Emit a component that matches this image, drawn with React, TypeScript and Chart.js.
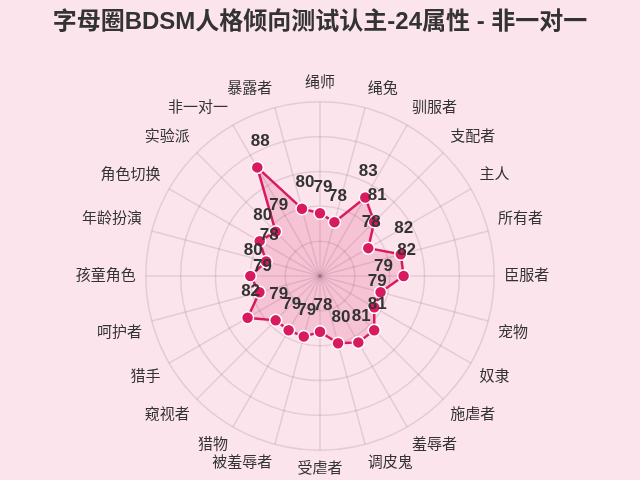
import React, { useEffect, useRef } from 'react';
import Chart from 'chart.js/auto';

const categories = [
  '绳师', '绳兔', '驯服者', '支配者', '主人', '所有者', '臣服者', '宠物',
  '奴隶', '施虐者', '羞辱者', '调皮鬼', '受虐者', '被羞辱者', '猎物', '窥视者',
  '猎手', '呵护者', '孩童角色', '年龄扮演', '角色切换', '实验派', '非一对一', '暴露者',
];
const scores = [
  79, 78, 83, 81, 78, 82, 82, 79,
  79, 81, 81, 80, 78, 79, 79, 79,
  82, 79, 80, 78, 80, 79, 88, 80,
];
const scaleMin = 70;
const scaleMax = 95;
const titleText = '字母圈BDSM人格倾向测试认主-24属性 - 非一对一';

const FONT = "'Liberation Sans', 'Noto Sans CJK SC', sans-serif";
const ACCENT = '#d81b60';

// value labels above each point
const valueLabels = {
  id: 'valueLabels',
  afterDatasetsDraw(chart: any) {
    const ctx = chart.ctx;
    const meta = chart.getDatasetMeta(0);
    ctx.save();
    ctx.font = `bold 17px ${FONT}`;
    ctx.fillStyle = '#333333';
    ctx.textAlign = 'center';
    ctx.textBaseline = 'middle';
    meta.data.forEach((pt: any, i: number) => {
      ctx.fillText(String(scores[i]), pt.x + 3, pt.y - 26);
    });
    ctx.restore();
  },
};

const App: React.FC = () => {
  const chartRef = useRef<HTMLCanvasElement>(null);

  useEffect(() => {
    document.body.style.margin = '0';
    if (!chartRef.current) return;
    const chart = new Chart(chartRef.current, {
      type: 'radar',
      data: {
        labels: categories,
        datasets: [
          {
            data: scores,
            borderColor: ACCENT,
            borderWidth: 2.5,
            backgroundColor: 'rgba(216,27,96,0.16)',
            fill: true,
            pointBackgroundColor: ACCENT,
            pointBorderColor: '#ffffff',
            pointBorderWidth: 1.5,
            pointRadius: 6,
          },
        ],
      },
      options: {
        animation: false,
        responsive: false,
        layout: { padding: { bottom: -2 } },
        plugins: {
          legend: { display: false },
          tooltip: { enabled: false },
          title: {
            display: true,
            text: titleText,
            color: '#333333',
            font: { family: FONT, size: 24, weight: 'bold' },
            padding: { top: 8, bottom: 37 },
          },
        },
        scales: {
          r: {
            min: scaleMin,
            max: scaleMax,
            ticks: { display: false, stepSize: 5 },
            grid: { circular: true, color: 'rgba(120,90,110,0.18)', lineWidth: 1.5 },
            angleLines: { color: 'rgba(120,90,110,0.18)', lineWidth: 1.5 },
            pointLabels: {
              color: '#333333',
              font: { family: FONT, size: 15 },
              padding: 10,
            },
          },
        },
      },
      plugins: [valueLabels],
    });
    return () => {
      chart.destroy();
    };
  }, []);

  return (
    <div style={{ width: 640, height: 480, background: '#fce4ec' }}>
      <canvas ref={chartRef} width={640} height={480} />
    </div>
  );
};

export default App;
